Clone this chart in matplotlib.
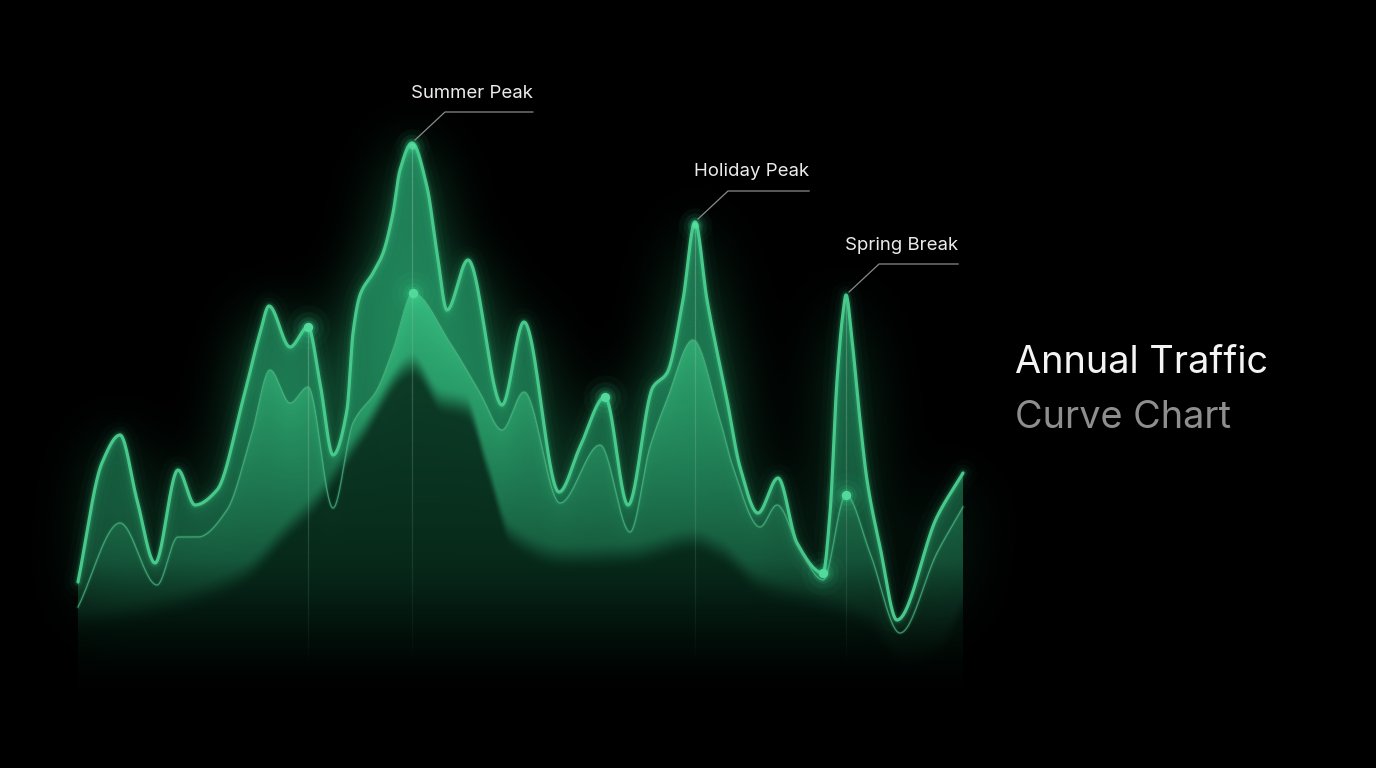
import numpy as np
import matplotlib
matplotlib.use("Agg")
import matplotlib.pyplot as plt
import matplotlib.transforms as mtransforms
from matplotlib.lines import Line2D
from matplotlib.collections import LineCollection

# ---------------- data (month of year, traffic index) ----------------
top_months = [0.0, 0.325, 0.57, 0.80, 1.044, 1.356, 1.586, 1.885, 2.237, 2.468,
              2.590, 2.875, 3.119, 3.281, 3.458, 3.647, 3.729, 3.824, 4.000, 4.136,
              4.271, 4.366, 4.529, 4.732, 4.868, 5.003, 5.288, 5.749, 6.047, 6.522,
              6.807, 7.146, 7.458, 7.797, 7.986, 8.203, 8.366, 8.529, 8.800, 8.976,
              9.220, 9.492, 9.749, 10.102, 10.197, 10.292, 10.373, 10.414, 10.495,
              10.603, 10.698, 10.875, 11.105, 11.647, 12.0]
top_traffic = [19.6, 43.4, 49.0, 36.0, 23.4, 42.0, 35.0, 38.0, 56.0, 69.4,
               74.8, 66.6, 70.6, 59.4, 45.0, 54.0, 69.4, 77.0, 81.4, 85.4,
               93.4, 102.0, 107.4, 98.6, 85.4, 74.0, 84.0, 55.0, 71.6, 37.6,
               46.6, 56.6, 35.0, 58.6, 61.4, 76.0, 91.6, 76.0, 56.0, 42.6,
               33.4, 40.4, 27.4, 21.4, 33.4, 60.0, 73.4, 77.0, 68.0,
               52.0, 40.0, 26.6, 12.0, 32.6, 41.4]

mid_months = [0.0, 0.57, 1.071, 1.356, 1.627, 2.020, 2.359, 2.603, 2.875, 3.119,
              3.458, 3.729, 4.054, 4.271, 4.542, 5.044, 5.451, 5.749, 6.047, 6.536,
              7.078, 7.485, 7.756, 7.986, 8.339, 8.705, 8.881, 9.247, 9.478, 9.790,
              10.102, 10.414, 10.739, 11.146, 11.647, 12.0]
mid_traffic = [14.6, 31.4, 19.0, 28.6, 28.6, 34.0, 49.4, 62.0, 55.4, 58.6,
               34.4, 51.4, 58.0, 66.0, 77.4, 67.4, 57.4, 50.0, 57.6, 35.4,
               47.0, 29.6, 46.6, 56.0, 68.0, 52.0, 42.6, 30.6, 35.0, 26.0,
               20.0, 37.0, 25.4, 9.4, 25.4, 34.6]

base_months = [0.0, 1.11, 2.20, 2.87, 3.19, 3.82, 4.54, 4.91, 5.27, 5.55, 5.86,
               6.63, 7.53, 8.34, 8.71, 9.25, 10.06, 10.74, 11.21, 11.69, 12.0]
base_traffic = [13.0, 16.0, 22.0, 32.0, 36.6, 50.0, 64.4, 57.4, 56.0, 44.0, 30.6,
                26.0, 26.6, 29.4, 27.4, 20.6, 17.0, 13.0, 5.0, 8.0, 16.0]

top_dot_idx = [12, 31, 43]          # highlighted points on the main curve
mid_dot_idx = [14, 31]              # highlighted points on the secondary curve
peak_glow_idx = [22, 36]            # soft glow on peaks
guide_idx = [12, 22, 36, 47]        # vertical guide lines from these top points
peak_labels = ["Summer Peak", "Holiday Peak", "Spring Break"]
peak_label_idx = [22, 36, 47]
title_line1 = "Annual Traffic"
title_line2 = "Curve Chart"

# ---------------- helpers ----------------
def pchip(x, y, xn):
    x = np.asarray(x, float); y = np.asarray(y, float); xn = np.asarray(xn, float)
    h = np.diff(x); delta = np.diff(y) / h
    n = len(x)
    d = np.zeros(n)
    for k in range(1, n - 1):
        if delta[k - 1] * delta[k] > 0:
            w1 = 2 * h[k] + h[k - 1]
            w2 = h[k] + 2 * h[k - 1]
            d[k] = (w1 + w2) / (w1 / delta[k - 1] + w2 / delta[k])
    d[0] = delta[0]; d[-1] = delta[-1]
    idx = np.clip(np.searchsorted(x, xn) - 1, 0, n - 2)
    t = (xn - x[idx]) / h[idx]
    h00 = 2 * t**3 - 3 * t**2 + 1
    h10 = t**3 - 2 * t**2 + t
    h01 = -2 * t**3 + 3 * t**2
    h11 = t**3 - t**2
    return h00 * y[idx] + h10 * h[idx] * d[idx] + h01 * y[idx + 1] + h11 * h[idx] * d[idx + 1]

def smoothstep(z):
    z = np.clip(z, 0, 1)
    return z * z * (3 - 2 * z)

def gblur1d(a, sigma, axis):
    r = int(3 * sigma)
    k = np.exp(-0.5 * (np.arange(-r, r + 1) / sigma) ** 2)
    k /= k.sum()
    return np.apply_along_axis(lambda m: np.convolve(m, k, mode="same"), axis, a)

plt.rcParams["font.family"] = ["Inter", "DejaVu Sans"]

W, H = 1376, 768
fig = plt.figure(figsize=(W / 100, H / 100), dpi=100)
fig.patch.set_facecolor("black")
ax = fig.add_axes([0, 0, 1, 1])
ax.set_facecolor("black")
ax.set_xlim(-78 / 73.75, (W - 78) / 73.75)
ax.set_ylim((680 - H) / 5, 680 / 5)
ax.axis("off")

tD = ax.transData
inv = tD.inverted()
def data_from_px(px, py):
    return inv.transform((px, H - py))
ppv = tD.transform((0, 1))[1] - tD.transform((0, 0))[1]   # pixels per traffic unit

xs = np.linspace(0, 12, 2400)
T_s = pchip(top_months, top_traffic, xs)
M_s = pchip(mid_months, mid_traffic, xs)

# ---------------- haze (blurred glow around the area) ----------------
x_lo, v_hi = data_from_px(0, 0)
x_hi, v_lo = data_from_px(1060, 740)
hx = np.linspace(x_lo, x_hi, 530)
hv = np.linspace(v_hi, v_lo, 370)
Th = pchip(top_months, top_traffic, np.clip(hx, 0, 12))
inside_x = ((hx >= 0) & (hx <= 12)).astype(float)
ypx_h = (H - tD.transform(np.c_[np.zeros_like(hv), hv])[:, 1])[:, None]
maskh = (hv[:, None] <= Th[None, :]) * inside_x[None, :] * np.clip((640 - ypx_h) / 260, 0, 1)
blur = gblur1d(gblur1d(maskh, 15, 0), 15, 1)
haze = np.zeros(maskh.shape + (4,))
haze[..., 0] = 0.14; haze[..., 1] = 0.66; haze[..., 2] = 0.43
haze[..., 3] = np.clip(0.62 * blur, 0, 1)
ax.imshow(haze, extent=(x_lo, x_hi, v_lo, v_hi), origin="upper", aspect="auto",
          interpolation="bilinear", zorder=1)

# ---------------- layered gradient fills ----------------
_, f_hi = data_from_px(0, 90)
_, f_lo = data_from_px(0, 702)
nx, ny = 886, 612
gx = np.linspace(0, 12, nx)
gv = np.linspace(f_hi, f_lo, ny)
T = pchip(top_months, top_traffic, gx)
M = pchip(mid_months, mid_traffic, gx)
B = pchip(base_months, base_traffic, gx)
ypx = (H - tD.transform(np.c_[np.zeros(ny), gv])[:, 1])[:, None]
dT = (T[None, :] - gv[:, None]) * ppv
dM = (M[None, :] - gv[:, None]) * ppv
dB = (B[None, :] - gv[:, None]) * ppv

P = np.zeros((ny, nx, 3)); A = np.zeros((ny, nx))
def over(P, A, color, a):
    c = np.array(color)
    P = c[None, None, :] * a[..., None] + P * (1 - a[..., None])
    A = a + A * (1 - a)
    return P, A

h1 = np.clip(0.42 + 0.5 * (620 - ypx) / 470, 0.3, 0.95)
a1 = np.clip(dT + 0.5, 0, 1) * h1 * (0.9 + 0.1 * np.exp(-np.clip(dT, 0, None) / 12))
P, A = over(P, A, (0.15, 0.60, 0.41), a1)
h2 = np.clip((600 - ypx) / 330, 0, 1) ** 1.3
a2 = np.clip(dM + 0.5, 0, 1) * 0.85 * h2 * (0.6 + 0.4 * np.exp(-np.clip(dM, 0, None) / 60))
P, A = over(P, A, (0.24, 0.80, 0.54), a2)
a3 = smoothstep((dB + 8) / 30) * 0.74
P, A = over(P, A, (0.01, 0.10, 0.06), a3)
rgb = np.where(A[..., None] > 1e-6, P / np.maximum(A[..., None], 1e-6), 0)
rgb = np.clip(rgb, 0, 1)
fb = np.clip((695 - ypx) / 135, 0, 1) ** 1.2
img = np.dstack([rgb, np.clip(A * fb, 0, 1)])
ax.imshow(img, extent=(0, 12, f_lo, f_hi), origin="upper", aspect="auto",
          interpolation="bilinear", zorder=2)

# ---------------- vertical guide lines ----------------
_, v_end = data_from_px(0, 665)
for i in guide_idx:
    x0 = top_months[i]; y0 = top_traffic[i]
    yy = np.linspace(y0, v_end, 60)
    segs = [[(x0, yy[k]), (x0, yy[k + 1])] for k in range(len(yy) - 1)]
    al = np.linspace(0.42, 0.0, len(segs)) ** 0.8
    cols = [(0.55, 0.72, 0.64, a) for a in al]
    ax.add_collection(LineCollection(segs, colors=cols, linewidths=0.9, zorder=3))

# ---------------- lines with glow ----------------
glow_c = "#3fd08c"
for lw, al in [(20, 0.025), (12, 0.045), (7, 0.08), (4.5, 0.14)]:
    ax.plot(xs, T_s, color=glow_c, lw=lw, alpha=al, solid_capstyle="round", zorder=4)
ax.plot(xs, T_s, color="#48c98b", lw=2.3, zorder=5, solid_capstyle="round")
ax.plot(xs, M_s, color="#3fb07c", lw=3.0, alpha=0.10, zorder=4)
ax.plot(xs, M_s, color="#4fb986", lw=1.0, alpha=0.7, zorder=5)

# ---------------- highlighted points ----------------
def glow_dot(x, y, core=True, scale=1.0):
    for s, a in [(1000, 0.035), (500, 0.06), (220, 0.11), (100, 0.18)]:
        ax.scatter([x], [y], s=s * scale, color="#3fe09a", alpha=a, lw=0, zorder=6)
    if core:
        ax.scatter([x], [y], s=46, color="#52d99b", lw=0, zorder=7)

for i in top_dot_idx:
    glow_dot(top_months[i], top_traffic[i])
for i in mid_dot_idx:
    glow_dot(mid_months[i], mid_traffic[i])
for i in peak_glow_idx:
    glow_dot(top_months[i], top_traffic[i] - 0.6, core=False, scale=0.6)
    ax.scatter([top_months[i]], [top_traffic[i] - 0.6], s=22, color="#5ee3a6", alpha=0.7, lw=0, zorder=7)

# ---------------- annotations ----------------
fig.canvas.draw()
renderer = fig.canvas.get_renderer()
for lab, i in zip(peak_labels, peak_label_idx):
    px, py = tD.transform((top_months[i], top_traffic[i]))
    txt = ax.text(px - 1, py + 50, lab, transform=mtransforms.IdentityTransform(),
                  color="#ececec", fontsize=13.4, ha="left", va="center", zorder=8,
                  fontweight="normal")
    bb = txt.get_window_extent(renderer)
    xs_l = [px + 3, px + 33, bb.x1]
    ys_l = [py + 3, py + 31, py + 31]
    ln = Line2D(xs_l, ys_l, color="#8a8a8a", lw=0.9, transform=mtransforms.IdentityTransform(), zorder=8)
    ax.add_line(ln)

# ---------------- title ----------------
fig.text(1015 / W, 1 - 373 / H, title_line1, color="#f4f4f4", fontsize=27.3,
         ha="left", va="baseline", fontweight="normal")
fig.text(1015 / W, 1 - 428 / H, title_line2, color="#8e8e8e", fontsize=27.3,
         ha="left", va="baseline", fontweight="normal")

fig.savefig("out.png", dpi=100, facecolor="black")
